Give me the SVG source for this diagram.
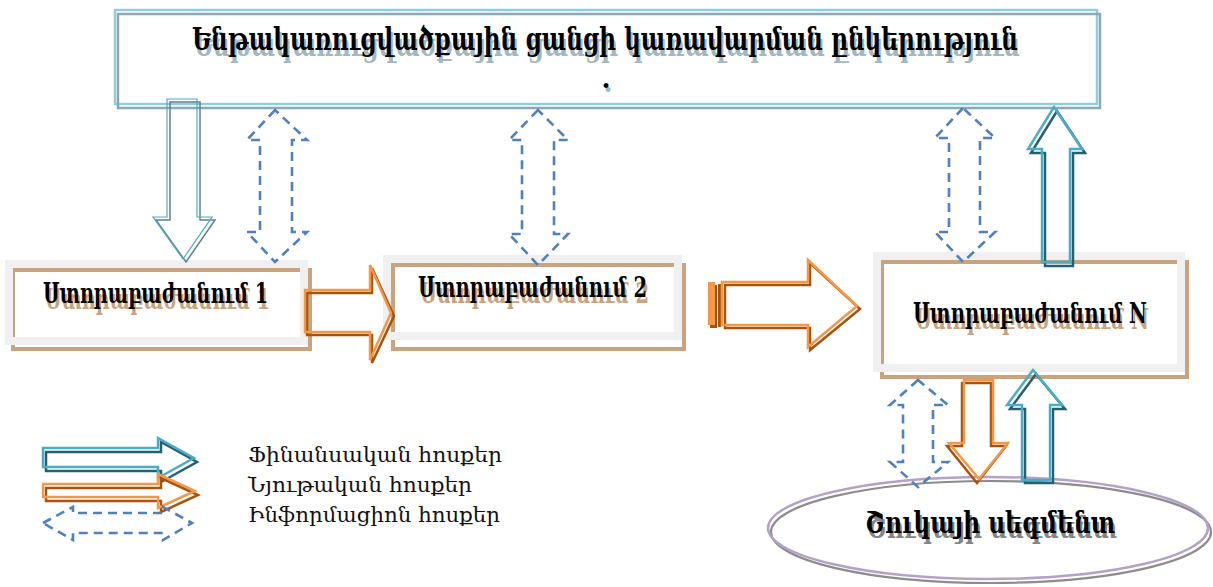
<svg xmlns="http://www.w3.org/2000/svg" width="1213" height="587" viewBox="0 0 1213 587">
<style>
.t{font-family:"DejaVu Serif","Liberation Serif",serif;font-weight:bold;}
.lg{font-family:"DejaVu Serif","Liberation Serif",serif;font-size:21px;fill:#111;}
.blk{fill:#000;}
.shT{fill:#a3b7c0;}
.shN{fill:#c9a27e;}
.shM{fill:#858585;}
.gframe{fill:none;stroke:#f0f0f0;stroke-width:8;}
.tan{fill:none;stroke:#c9a27e;stroke-width:4;}
.info{fill:none;stroke:#4f81bd;stroke-width:2.6;stroke-dasharray:9 6;}
.oL{fill:none;stroke:#f79646;stroke-width:2.5;}
.oD{fill:none;stroke:#a5540e;stroke-width:2.5;}
.bL{fill:none;stroke:#4bacc6;stroke-width:2.5;}
.bD{fill:none;stroke:#25606e;stroke-width:2.5;}
</style>
<rect width="1213" height="587" fill="#fff"/>

<g id="top-company">
  <rect x="115" y="10" width="982" height="94" fill="#fff" stroke="#92cddc" stroke-width="2.5"/>
  <rect x="118" y="14" width="982" height="94" fill="none" stroke="#8ea8b2" stroke-width="2.5"/>
  <text class="t shT" x="194" y="56" font-size="31" textLength="826" lengthAdjust="spacingAndGlyphs">Ենթակառուցվածքային ցանցի կառավարման ընկերություն</text>
  <text class="t blk" x="192" y="50" font-size="31" textLength="826" lengthAdjust="spacingAndGlyphs">Ենթակառուցվածքային ցանցի կառավարման ընկերություն</text>
  <text class="t shT" x="608" y="92" font-size="26" text-anchor="middle">.</text>
  <text class="t blk" x="606" y="88" font-size="26" text-anchor="middle">.</text>
</g>

<g id="node1">
  <rect x="9" y="264" width="295" height="77" fill="#fff"/>
  <rect class="tan" x="13" y="270" width="297" height="79"/>
  <rect class="gframe" x="9" y="264" width="295" height="77"/>
  <text class="t shN" x="45" y="309" font-size="28" textLength="225" lengthAdjust="spacingAndGlyphs">Ստորաբաժանում 1</text>
  <text class="t blk" x="43" y="303" font-size="28" textLength="225" lengthAdjust="spacingAndGlyphs">Ստորաբաժանում 1</text>
</g>

<g id="node2">
  <rect x="387" y="259" width="291" height="77" fill="#fff"/>
  <rect class="tan" x="393" y="265" width="291" height="84"/>
  <rect class="gframe" x="387" y="259" width="291" height="77"/>
  <text class="t shN" x="420" y="303" font-size="28" textLength="229" lengthAdjust="spacingAndGlyphs">Ստորաբաժանում 2</text>
  <text class="t blk" x="418" y="297" font-size="28" textLength="229" lengthAdjust="spacingAndGlyphs">Ստորաբաժանում 2</text>
</g>

<g id="nodeN">
  <rect x="877" y="256" width="304" height="112" fill="#fff"/>
  <rect class="tan" x="882" y="262" width="305" height="115"/>
  <rect class="gframe" x="877" y="256" width="304" height="112"/>
  <text class="t shN" x="915" y="329" font-size="28" textLength="234" lengthAdjust="spacingAndGlyphs">Ստորաբաժանում N</text>
  <text class="t blk" x="913" y="323" font-size="28" textLength="234" lengthAdjust="spacingAndGlyphs">Ստորաբաժանում N</text>
</g>

<g id="market">
  <ellipse cx="991" cy="532" rx="220" ry="51" fill="#fff" stroke="#8c8c8c" stroke-width="2.2"/>
  <ellipse cx="988" cy="528" rx="220" ry="51" fill="none" stroke="#b3a2c7" stroke-width="2.5"/>
  <text class="t shM" x="867" y="538" font-size="30" textLength="250" lengthAdjust="spacingAndGlyphs">Շուկայի սեգմենտ</text>
  <text class="t blk" x="865" y="533" font-size="30" textLength="250" lengthAdjust="spacingAndGlyphs">Շուկայի սեգմենտ</text>
</g>

<g id="connectors">
  <path d="M170,102 L200,102 L200,220 L215,220 L186,262 L156,220 L170,220 Z" fill="none" stroke="#62808a" stroke-width="1.5"/>
  <path d="M167,99 L197,99 L197,217 L212,217 L183,259 L153,217 L167,217 Z" fill="none" stroke="#4bacc6" stroke-width="1.2"/>

  <path class="info" d="M275,110 L247,140 L260,140 L260,232 L247,232 L275,262 L307,232 L292,232 L292,140 L307,140 Z"/>
  <path class="info" d="M538,110 L509,140 L522,140 L522,234 L509,234 L538,265 L568,234 L554,234 L554,140 L568,140 Z"/>
  <path class="info" d="M963,108 L935,138 L949,138 L949,232 L935,232 L963,262 L995,232 L980,232 L980,138 L995,138 Z"/>
  <path class="info" d="M918,380 L890,405 L903,405 L903,462 L890,462 L918,487 L948,462 L933,462 L933,405 L948,405 Z"/>

  <path class="bD" d="M1057,111 L1085,153 L1073,153 L1073,266 L1045,266 L1045,153 L1031,153 Z"/>
  <path class="bL" d="M1054,107 L1082,149 L1070,149 L1070,262 L1042,262 L1042,149 L1028,149 Z"/>

  <path class="oD" d="M307,293 L372,293 L372,268 L394,316 L372,363 L372,335 L307,335 Z"/>
  <path class="oL" d="M305,290 L370,290 L370,265 L391,313 L370,360 L370,332 L305,332 Z"/>

  <rect x="710" y="285" width="7" height="43" fill="#a5540e"/>
  <rect x="708" y="282" width="7" height="43" fill="#f79646"/>
  <rect x="718" y="284" width="3" height="43" fill="#a5540e"/>
  <path class="oD" d="M725,285 L810,285 L810,263 L860,309 L810,350 L810,328 L725,328 Z"/>
  <path class="oL" d="M722,282 L808,282 L808,260 L857,306 L808,347 L808,325 L722,325 Z"/>

  <path class="oD" d="M962,383 L991,383 L991,446 L1006,446 L977,483 L947,446 L962,446 Z"/>
  <path class="oL" d="M964,380 L993,380 L993,443 L1008,443 L979,479 L949,443 L964,443 Z"/>

  <path class="bD" d="M1036,374 L1065,409 L1053,409 L1053,483 L1025,483 L1025,409 L1010,409 Z"/>
  <path class="bL" d="M1033,370 L1062,405 L1050,405 L1050,480 L1022,480 L1022,405 L1007,405 Z"/>
</g>

<g id="legend">
  <path class="bD" d="M46,452 L161,452 L161,442 L197,462 L161,482 L161,471 L46,471 Z"/>
  <path class="bL" d="M43,448 L158,448 L158,438 L194,458 L158,478 L158,467 L43,467 Z"/>
  <path class="oD" d="M46,488 L161,488 L161,478 L198,495 L161,512 L161,501 L46,501 Z"/>
  <path class="oL" d="M43,484 L158,484 L158,474 L195,491 L158,508 L158,497 L43,497 Z"/>
  <path class="info" d="M43,523 L73,507 L73,513 L163,513 L163,507 L192,523 L163,540 L163,533 L73,533 L73,540 Z"/>
  <text class="lg" x="248" y="462" textLength="254" lengthAdjust="spacingAndGlyphs">Ֆինանսական հոսքեր</text>
  <text class="lg" x="248" y="492" textLength="224" lengthAdjust="spacingAndGlyphs">Նյութական հոսքեր</text>
  <text class="lg" x="248" y="522" textLength="252" lengthAdjust="spacingAndGlyphs">Ինֆորմացիոն հոսքեր</text>
</g>
</svg>
